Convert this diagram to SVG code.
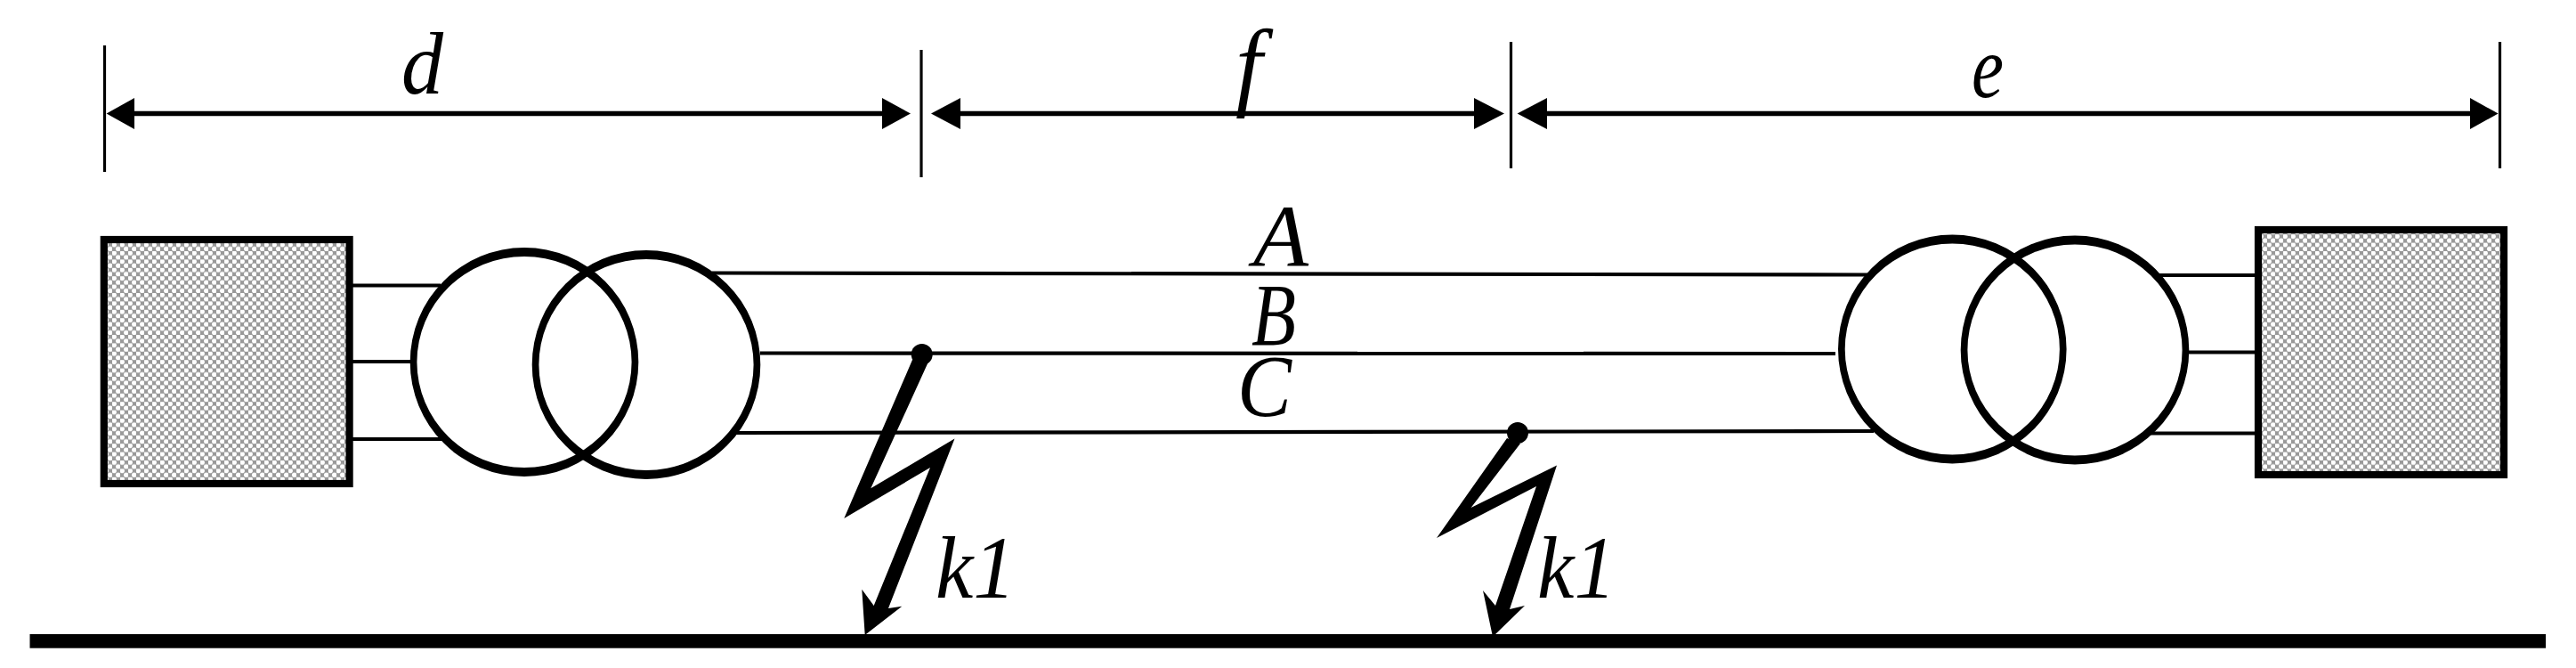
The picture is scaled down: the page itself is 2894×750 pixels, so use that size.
<svg xmlns="http://www.w3.org/2000/svg" width="2894" height="750" viewBox="0 0 2894 750">
  <style>
    .wire{stroke:#000;stroke-width:4.2;fill:none}
    .tick{stroke:#000;stroke-width:3.2;fill:none}
    .dim{stroke:#000;stroke-width:5.5;fill:none}
    .coil{fill:#000;fill-rule:evenodd;stroke:none}
    .src{stroke:#000;stroke-width:8.2;fill:url(#hatch)}
    .bolt{fill:#000;stroke:none}
    .lbl{font-family:"Liberation Serif",serif;font-style:italic;font-size:100px;fill:#000}
  </style>
  <defs>
    <pattern id="hatch" patternUnits="userSpaceOnUse" width="9" height="9.4">
      <rect width="9" height="9.4" fill="#999"/>
      <circle cx="2.2" cy="2.2" r="2.7" fill="#fff"/>
      <circle cx="6.7" cy="6.9" r="2.7" fill="#fff"/>
    </pattern>
    <path id="coil" class="coil" d="M-128.3 0A128.3 128.5 0 1 1 128.3 0A128.3 128.5 0 1 1 -128.3 0ZM-120.6 0A120.6 118.5 0 1 0 120.6 0A120.6 118.5 0 1 0 -120.6 0Z"/>
  </defs>
  <rect width="2894" height="750" fill="#fff"/>
  <g id="connectors">
    <line class="dim" x1="145" y1="127.5" x2="1000" y2="127.5"/>
    <line class="dim" x1="1070" y1="127.5" x2="1665" y2="127.5"/>
    <line class="dim" x1="1730" y1="127.5" x2="2785" y2="127.5"/>
    <polygon class="bolt" points="119.6,127.5 151,110 151,145"/>
    <polygon class="bolt" points="1023,127.5 991,110 991,145"/>
    <polygon class="bolt" points="1046,127.5 1079,110 1079,145"/>
    <polygon class="bolt" points="1690,127.5 1656,110 1656,145"/>
    <polygon class="bolt" points="1704.6,127.5 1738,110 1738,145"/>
    <polygon class="bolt" points="2806.6,127.5 2775,110 2775,145"/>
    <line class="tick" x1="117.5" y1="51" x2="117.5" y2="193"/>
    <line class="tick" x1="1035" y1="56" x2="1035" y2="199"/>
    <line class="tick" x1="1697.5" y1="47" x2="1697.5" y2="189"/>
    <line class="tick" x1="2808.5" y1="47" x2="2808.5" y2="189"/>
    <line class="wire" x1="396" y1="320.5" x2="495" y2="320.5"/>
    <line class="wire" x1="396" y1="406" x2="461" y2="406"/>
    <line class="wire" x1="396" y1="493" x2="497" y2="493"/>
    <line class="wire" x1="800" y1="306.5" x2="2100" y2="308.5"/>
    <line class="wire" x1="854" y1="396.5" x2="2062" y2="397"/>
    <line class="wire" x1="826" y1="486" x2="2105" y2="484"/>
    <line class="wire" x1="2425" y1="309" x2="2533" y2="309"/>
    <line class="wire" x1="2459" y1="395.5" x2="2533" y2="395.5"/>
    <line class="wire" x1="2416" y1="486.5" x2="2533" y2="486.5"/>
  </g>
  <g id="ground"><rect x="33.5" y="712" width="2826.5" height="15.7" fill="#000"/></g>
  <g id="source-left"><rect class="src" x="116.8" y="269" width="275.8" height="274"/></g>
  <g id="transformer-left">
    <use href="#coil" x="589" y="406.5"/>
    <use href="#coil" x="726" y="409.5"/>
  </g>
  <g id="transformer-right">
    <use href="#coil" x="2193.3" y="392"/>
    <use href="#coil" x="2331" y="393"/>
  </g>
  <g id="source-right"><rect class="src" x="2537" y="258" width="276" height="275"/></g>
  <g id="fault-1">
    <circle cx="1035.7" cy="398" r="12"/>
    <polygon class="bolt" points="1025,404 1044,404 978.3,548.3 1072.5,492.5 998,683 1013.3,680.7 971.7,713 968.3,661.7 981.7,680 1045,525 948.3,582"/>
  </g>
  <g id="fault-2">
    <circle cx="1705" cy="486" r="12"/>
    <polygon class="bolt" points="1693,492 1708,498 1652.6,570 1749,522.5 1696,684 1713,680 1677,715 1666,663 1680,680 1726,546 1614,604"/>
  </g>
  <g id="labels">
    <text class="lbl" x="451" y="105" textLength="47" lengthAdjust="spacingAndGlyphs">d</text>
    <text class="lbl" x="1388" y="110" style="font-size:110px" textLength="30" lengthAdjust="spacingAndGlyphs">f</text>
    <text class="lbl" x="2215" y="109" textLength="36" lengthAdjust="spacingAndGlyphs">e</text>
    <text class="lbl" x="1408" y="299" textLength="62" lengthAdjust="spacingAndGlyphs">A</text>
    <text class="lbl" x="1406" y="387" textLength="50" lengthAdjust="spacingAndGlyphs">B</text>
    <text class="lbl" x="1390" y="467" textLength="61" lengthAdjust="spacingAndGlyphs">C</text>
    <text class="lbl" x="1051" y="671" textLength="90" lengthAdjust="spacingAndGlyphs">k1</text>
    <text class="lbl" x="1727" y="671" textLength="88" lengthAdjust="spacingAndGlyphs">k1</text>
  </g>
</svg>
